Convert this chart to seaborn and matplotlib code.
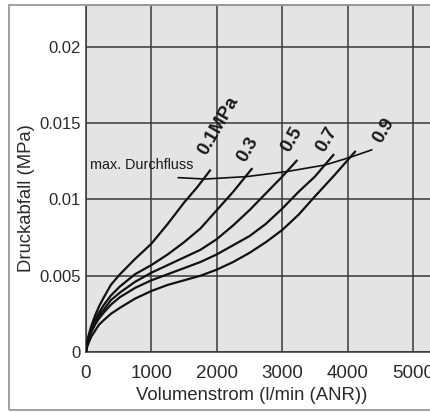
import numpy as np
import pandas as pd
import matplotlib
matplotlib.use("Agg")
import matplotlib.pyplot as plt
from matplotlib.patches import Rectangle
import seaborn as sns

# Pressure-drop curves for each supply pressure (flow in l/min ANR, drop in MPa)
pressures = ["0.1MPa", "0.3", "0.5", "0.7", "0.9"]

flow_01 = [0, 15, 40, 80, 140, 200, 275, 380, 520, 750, 1000, 1250, 1500, 1700, 1896]
drop_01 = [0, 0.0006, 0.0011, 0.0017, 0.0024, 0.0030, 0.0036, 0.0044, 0.0051,
           0.0061, 0.0071, 0.0084, 0.0098, 0.0108, 0.0119]

flow_03 = [0, 15, 40, 80, 140, 200, 275, 380, 520, 750, 1000, 1250, 1500, 1750,
           2000, 2250, 2533]
drop_03 = [0, 0.0005, 0.0010, 0.0015, 0.0021, 0.0026, 0.0031, 0.0037, 0.0043,
           0.0051, 0.0057, 0.0064, 0.0072, 0.0081, 0.0093, 0.0105, 0.0120]

flow_05 = [0, 15, 40, 80, 140, 200, 275, 380, 520, 750, 1000, 1250, 1500, 1750,
           2000, 2250, 2500, 2750, 3000, 3221]
drop_05 = [0, 0.0005, 0.0009, 0.0014, 0.0019, 0.0024, 0.0028, 0.0034, 0.0039,
           0.0046, 0.0052, 0.0057, 0.0062, 0.0067, 0.0074, 0.0083, 0.0093,
           0.0104, 0.0115, 0.01254]

flow_07 = [0, 15, 40, 80, 140, 200, 275, 380, 520, 750, 1000, 1250, 1500, 1750,
           2000, 2250, 2500, 2750, 3000, 3250, 3500, 3782]
drop_07 = [0, 0.0004, 0.0008, 0.0013, 0.0018, 0.0022, 0.0026, 0.0031, 0.0036,
           0.0042, 0.0047, 0.0051, 0.0055, 0.0059, 0.0064, 0.0070, 0.0076,
           0.0084, 0.0094, 0.0105, 0.0115, 0.01292]

flow_09 = [0, 15, 40, 80, 140, 200, 275, 380, 520, 750, 1000, 1250, 1500, 1750,
           2000, 2250, 2500, 2750, 3000, 3250, 3500, 3800, 4113]
drop_09 = [0, 0.0003, 0.0006, 0.0010, 0.0014, 0.0018, 0.0021, 0.0025, 0.0029,
           0.0035, 0.0040, 0.0044, 0.0047, 0.0050, 0.0054, 0.0059, 0.0065,
           0.0072, 0.0080, 0.0090, 0.0102, 0.0116, 0.01313]

# Maximum-flow boundary line
maxflow_x = [1412, 1820, 2457, 3068, 3654, 4037, 4368]
maxflow_y = [0.01143, 0.01134, 0.01150, 0.01183, 0.01226, 0.01276, 0.01325]

# Curve label anchor points (data coordinates)
label_x = [2018, 2480, 3145, 3680, 4550]
label_y = [0.01480, 0.01330, 0.01390, 0.01390, 0.01450]

x_ticks = [0, 1000, 2000, 3000, 4000, 5000]
x_ticklabels = ["0", "1000", "2000", "3000", "4000", "5000"]
y_ticks = [0, 0.005, 0.01, 0.015, 0.02]
y_ticklabels = ["0", "0.005", "0.01", "0.015", "0.02"]

series = [(flow_01, drop_01), (flow_03, drop_03), (flow_05, drop_05),
          (flow_07, drop_07), (flow_09, drop_09)]
frames = []
for name, (fx, fy) in zip(pressures, series):
    frames.append(pd.DataFrame({"flow": fx, "drop": fy, "pressure": name}))
curves = pd.concat(frames, ignore_index=True)
maxflow = pd.DataFrame({"flow": maxflow_x, "drop": maxflow_y})

plt.rcParams["font.family"] = ["Liberation Sans", "DejaVu Sans"]

W, H = 431, 413
fig = plt.figure(figsize=(W / 100, H / 100), dpi=100)
fig.patch.set_facecolor("white")

ax = fig.add_axes([86 / W, (H - 352) / H, 345 / W, 347 / H])
ax.set_facecolor("#e4e4e4")

sns.lineplot(data=curves, x="flow", y="drop", hue="pressure", units="pressure",
             estimator=None, sort=False, palette=["#111111"] * 5,
             linewidth=1.6, legend=False, ax=ax, zorder=3)
sns.lineplot(data=maxflow, x="flow", y="drop", color="#111111", linewidth=1.2,
             estimator=None, sort=False, legend=False, ax=ax, zorder=3)
for line in ax.lines:
    line.set_solid_joinstyle("round")

ax.set_xlim(0, 5275)
ax.set_ylim(0, 0.02275)
ax.set_xticks(x_ticks)
ax.set_xticklabels(x_ticklabels)
ax.set_yticks(y_ticks)
ax.set_yticklabels(y_ticklabels)
ax.tick_params(axis="x", length=0, pad=9, labelsize=13.5, labelcolor="#2a2a2a")
ax.tick_params(axis="y", length=0, pad=4, labelsize=12, labelcolor="#2a2a2a")

ax.grid(True, color="#383838", linewidth=1.1, zorder=1)
ax.set_axisbelow(True)
ax.spines["right"].set_visible(False)
for side in ["left", "bottom"]:
    ax.spines[side].set_color("#383838")
    ax.spines[side].set_linewidth(1.1)
ax.spines["top"].set_color("#8a8a8a")
ax.spines["top"].set_linewidth(1.2)

ax.set_xlabel("Volumenstrom (l/min (ANR))", fontsize=13.3, color="#2a2a2a")
ax.set_ylabel("Druckabfall (MPa)", fontsize=13.3, color="#2a2a2a")
ax.xaxis.set_label_coords((252 - 86) / 345, (352 - 387) / 347)
ax.yaxis.set_label_coords((35 - 86) / 345, (352 - 198) / 347)

for name, lx, ly in zip(pressures, label_x, label_y):
    ax.text(lx, ly, name, rotation=60, ha="center", va="center",
            fontsize=13.5, fontweight="bold", color="#1a1a1a",
            rotation_mode="anchor", zorder=4)

ax.text(61, 0.01226, "max. Durchfluss", ha="left", va="center",
        fontsize=10.4, color="#1a1a1a", zorder=4)

# Outer frame around the whole figure
fig.patches.append(Rectangle((9 / W, (H - 410) / H), 1.0, (410 - 5) / H,
                             transform=fig.transFigure, fill=False,
                             edgecolor="#9a9a9a", linewidth=1.3, zorder=0))

fig.savefig("out.png", dpi=100)
